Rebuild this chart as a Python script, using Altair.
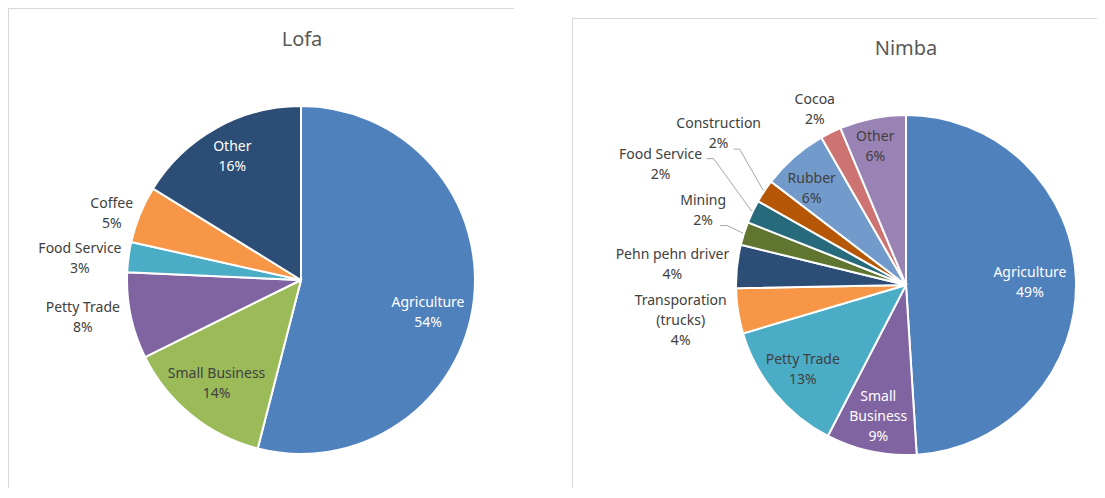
import altair as alt
import pandas as pd

# ---------------- data ----------------
titles = ["Lofa", "Nimba"]

lofa_categories = ["Agriculture", "Small Business", "Petty Trade", "Food Service", "Coffee", "Other"]
lofa_values = [54.0, 13.7, 8.0, 2.8, 5.3, 16.2]

nimba_categories = ["Agriculture", "Small Business", "Petty Trade", "Transporation (trucks)",
                    "Pehn pehn driver", "Mining", "Food Service", "Construction",
                    "Rubber", "Cocoa", "Other"]
nimba_values = [49.0, 8.6, 12.8, 4.3, 4.1, 2.2, 2.2, 2.2, 6.3, 2.0, 6.3]

# ---------------- styles ----------------
FONT = "Noto Sans"
WHITE = "#FFFFFF"
DARK = "#404040"
LINE_H = 20
lofa_colors = ["#4F81BD", "#9BBB59", "#8064A2", "#4BACC6", "#F79646", "#2C4D75"]
nimba_colors = ["#4F81BD", "#8064A2", "#4BACC6", "#F79646", "#2C4D75", "#5F7530",
                "#276A7C", "#B65708", "#729ACA", "#CD7371", "#9983B5"]

# label placement: radius from the pie centre along the slice's mid angle, plus nudges
lofa_labels = {
    "Agriculture": dict(color=WHITE, r=130, dx=-2, dy=17),
    "Small Business": dict(color=DARK, r=134),
    "Petty Trade": dict(color=DARK, r=223, dy=-8),
    "Food Service": dict(color=DARK, r=223, dy=8),
    "Coffee": dict(color=DARK, r=200, dx=-4, dy=9),
    "Other": dict(color=WHITE, r=141),
}
nimba_labels = {
    "Agriculture": dict(color=WHITE, r=124, dy=2),
    "Small Business": dict(color=WHITE, r=135, text="Small\nBusiness"),
    "Petty Trade": dict(color=DARK, r=134),
    "Transporation (trucks)": dict(color=DARK, r=228, dy=1, text="Transporation\n(trucks)"),
    "Pehn pehn driver": dict(color=DARK, r=235, dy=6),
    "Mining": dict(color=DARK, r=216, dx=3, dy=-9, leader=(17, 15, 7)),
    "Food Service": dict(color=DARK, r=272, dy=-3, leader=(46, -6, 7)),
    "Construction": dict(color=DARK, r=239, dx=12, dy=-19, leader=(15, 15, 6)),
    "Rubber": dict(color=DARK, r=134, dx=-6, dy=5),
    "Cocoa": dict(color=DARK, r=197, dx=-4, dy=2),
    "Other": dict(color=DARK, r=141, dx=-3),
}

W, H = 1089, 480
LOFA = dict(cx=293, cy=272, r=174, tx=294, ty=32)
NIMBA = dict(cx=898, cy=277, r=170, tx=898, ty=41)


def build_table(categories, values, colors, labels):
    rows = []
    for i, (c, v, col) in enumerate(zip(categories, values, colors)):
        lab = labels[c]
        lead = lab.get("leader")
        text = f"{lab.get('text', c)}\n{round(v):d}%"
        rows.append(dict(
            cat=c, value=v, idx=i, color=col,
            label=text, nlines=text.count("\n") + 1,
            tcolor=lab["color"], lr=lab["r"], ldx=lab.get("dx", 0), ldy=lab.get("dy", 0),
            leader=lead is not None,
            lsx=lead[0] if lead else 0, lsy=lead[1] if lead else 0, llen=lead[2] if lead else 0,
        ))
    return pd.DataFrame(rows)


def pie(df, geo, title):
    cx, cy, r = geo["cx"], geo["cy"], geo["r"]
    arcs = alt.Chart(df).mark_arc(outerRadius=r, stroke="white", strokeWidth=2).encode(
        theta=alt.Theta("value:Q", stack=True),
        order=alt.Order("idx:Q", sort="ascending"),
        color=alt.Color("color:N", scale=None, legend=None),
        x=alt.value(cx), y=alt.value(cy),
    )
    pos = (alt.Chart(df)
           .transform_joinaggregate(total="sum(value)")
           .transform_window(cum="sum(value)", sort=[alt.SortField("idx", order="ascending")],
                             frame=[None, 0])
           .transform_calculate(ang="2*PI*(datum.cum - datum.value/2)/datum.total")
           .transform_calculate(tx=f"{cx} + datum.lr*sin(datum.ang) + datum.ldx")
           .transform_calculate(ty=f"{cy} - datum.lr*cos(datum.ang) + datum.ldy")
           .transform_calculate(ty0=f"datum.ty - (datum.nlines - 1)*{LINE_H / 2}")
           .transform_calculate(ex=f"{cx} + {r + 1}*sin(datum.ang)")
           .transform_calculate(ey=f"{cy} - {r + 1}*cos(datum.ang)"))
    texts = pos.mark_text(font=FONT, fontSize=14, lineHeight=LINE_H, lineBreak="\n",
                          align="center", baseline="middle").encode(
        x=alt.X("tx:Q", scale=None, axis=None),
        y=alt.Y("ty0:Q", scale=None, axis=None),
        text="label:N",
        color=alt.Color("tcolor:N", scale=None, legend=None),
    )
    lead = (pos.transform_filter("datum.leader")
            .transform_calculate(sx="datum.tx + datum.lsx")
            .transform_calculate(sy="datum.ty + datum.lsy")
            .transform_calculate(kx="datum.tx + datum.lsx + datum.llen"))
    lead_h = lead.mark_rule(color="#A6A6A6", strokeWidth=1).encode(
        x=alt.X("sx:Q", scale=None, axis=None), x2="kx:Q",
        y=alt.Y("sy:Q", scale=None, axis=None))
    lead_d = lead.mark_rule(color="#A6A6A6", strokeWidth=1).encode(
        x=alt.X("kx:Q", scale=None, axis=None), x2="ex:Q",
        y=alt.Y("sy:Q", scale=None, axis=None), y2="ey:Q")
    ttl = alt.Chart(pd.DataFrame({"t": [title]})).mark_text(
        font=FONT, fontSize=20, color="#595959", align="center", baseline="middle").encode(
        text="t:N", x=alt.value(geo["tx"]), y=alt.value(geo["ty"]))
    return [arcs, lead_h, lead_d, texts, ttl]


one = pd.DataFrame({"d": [0]})
BORDER = "#D9D9D9"
borders = [
    alt.Chart(one).mark_rule(color=BORDER).encode(x=alt.value(0), x2=alt.value(506), y=alt.value(0.5)),
    alt.Chart(one).mark_rule(color=BORDER).encode(x=alt.value(0.5), y=alt.value(0), y2=alt.value(H)),
    alt.Chart(one).mark_rule(color=BORDER).encode(x=alt.value(564), x2=alt.value(W), y=alt.value(10.5)),
    alt.Chart(one).mark_rule(color=BORDER).encode(x=alt.value(564.5), y=alt.value(10), y2=alt.value(H)),
]

lofa_df = build_table(lofa_categories, lofa_values, lofa_colors, lofa_labels)
nimba_df = build_table(nimba_categories, nimba_values, nimba_colors, nimba_labels)

layers = borders + pie(lofa_df, LOFA, titles[0]) + pie(nimba_df, NIMBA, titles[1])

chart = (alt.layer(*layers)
         .resolve_scale(theta="independent")
         .properties(width=W, height=H, padding=0, autosize=alt.AutoSizeParams(type="none"),
                     background="white")
         .configure_view(strokeWidth=0))

chart.save("out.html", embed_options={"renderer": "svg", "actions": False})
